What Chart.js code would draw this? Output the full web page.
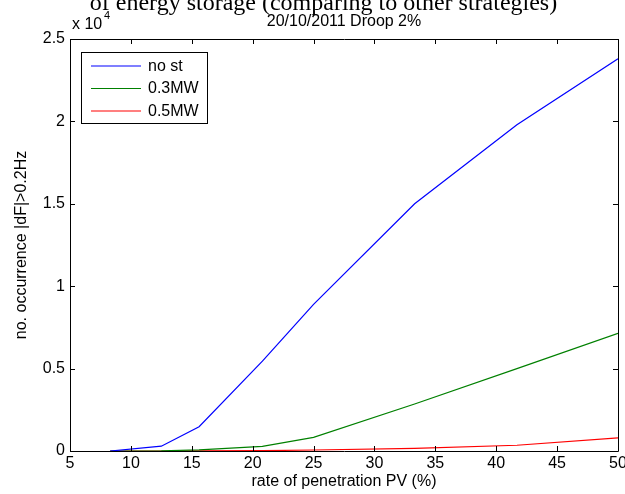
<!DOCTYPE html>
<html>
<head>
<meta charset="utf-8">
<script src="https://cdn.jsdelivr.net/npm/chart.js@4/dist/chart.umd.min.js"></script>
<style>
  html, body { margin: 0; padding: 0; background: #fff; }
  #wrap { position: relative; width: 625px; height: 494px; overflow: hidden; }
  #cut { position: absolute; left: 11px; top: -11px; width: 625px; text-align: center;
         font: 24px "Liberation Serif", "Times New Roman", serif; color: #000; white-space: nowrap; }
</style>
</head>
<body>
<div id="wrap">
  <canvas id="chart" width="625" height="494"></canvas>
  <div id="cut">of energy storage (comparing to other strategies)</div>
</div>
<script>
// penetration rate of PV (%)
const penetration = [8.3, 12.5, 15.6, 20.8, 25, 33.3, 41.7, 50];
// no. of occurrences |dF| > 0.2Hz
const noStorage = [0, 290, 1470, 5450, 8900, 15000, 19800, 23800];
const storage03 = [0, 10, 70, 280, 830, 2850, 5000, 7140];
const storage05 = [0, 0, 5, 20, 60, 160, 350, 800];
const seriesNames = ["no st", "0.3MW", "0.5MW"];
const seriesColors = ["#0000ff", "#008000", "#ff0000"];
const yTicks = [0, 5000, 10000, 15000, 20000, 25000];

const font = "Liberation Sans, Arial, sans-serif";

function points(values) {
  return penetration.map((x, i) => ({ x: x, y: values[i] }));
}

// MATLAB style box with inward ticks, titles and legend
const matlabAxes = {
  id: "matlabAxes",
  afterDraw(chart) {
    const ctx = chart.ctx;
    const a = chart.chartArea;
    const xs = chart.scales.x;
    const ys = chart.scales.y;
    ctx.save();
    ctx.strokeStyle = "#000";
    ctx.lineWidth = 1;
    ctx.beginPath();
    ctx.rect(a.left + 0.5, a.top + 0.5, a.right - a.left, a.bottom - a.top);
    for (let v = 5; v <= 50; v += 5) {
      const px = Math.round(xs.getPixelForValue(v)) + 0.5;
      ctx.moveTo(px, a.bottom); ctx.lineTo(px, a.bottom - 5);
      ctx.moveTo(px, a.top); ctx.lineTo(px, a.top + 5);
    }
    yTicks.forEach((v) => {
      const py = Math.round(ys.getPixelForValue(v)) + 0.5;
      ctx.moveTo(a.left, py); ctx.lineTo(a.left + 5, py);
      ctx.moveTo(a.right, py); ctx.lineTo(a.right - 5, py);
    });
    ctx.stroke();

    ctx.fillStyle = "#000";
    ctx.font = "16px " + font;
    ctx.textAlign = "center";
    ctx.textBaseline = "middle";
    ctx.fillText("20/10/2011 Droop 2%", (a.left + a.right) / 2, 22);
    ctx.fillText("rate of penetration PV (%)", (a.left + a.right) / 2, 482);
    ctx.save();
    ctx.translate(22, (a.top + a.bottom) / 2);
    ctx.rotate(-Math.PI / 2);
    ctx.fillText("no. occurrence |dF|>0.2Hz", 0, 0);
    ctx.restore();

    ctx.textAlign = "left";
    ctx.fillText("x 10", a.left + 2, 25);
    ctx.font = "11px " + font;
    ctx.fillText("4", a.left + 34, 16);

    // legend
    ctx.fillStyle = "#fff";
    ctx.fillRect(81, 52, 126, 71);
    ctx.strokeStyle = "#000";
    ctx.strokeRect(81.5, 52.5, 126, 71);
    ctx.font = "16px " + font;
    seriesNames.forEach((name, i) => {
      const y = 66 + i * 22.5;
      ctx.beginPath();
      ctx.strokeStyle = seriesColors[i];
      ctx.lineWidth = 1.2;
      ctx.moveTo(91, y);
      ctx.lineTo(141, y);
      ctx.stroke();
      ctx.fillStyle = "#000";
      ctx.fillText(name, 148, y + 0.5);
    });
    ctx.restore();
  },
};

new Chart(document.getElementById("chart"), {
  type: "line",
  data: {
    datasets: [
      { label: seriesNames[0], data: points(noStorage), borderColor: seriesColors[0] },
      { label: seriesNames[1], data: points(storage03), borderColor: seriesColors[1] },
      { label: seriesNames[2], data: points(storage05), borderColor: seriesColors[2] },
    ],
  },
  options: {
    responsive: false,
    animation: false,
    elements: {
      line: { borderWidth: 1.2, tension: 0 },
      point: { radius: 0 },
    },
    layout: { padding: { top: 39, right: 7, left: 0, bottom: 0 } },
    plugins: { legend: { display: false }, tooltip: { enabled: false } },
    scales: {
      x: {
        type: "linear",
        min: 5,
        max: 50,
        grid: { display: false, drawTicks: false },
        border: { display: false },
        ticks: { stepSize: 5, color: "#000", font: { family: font, size: 16 }, padding: 3, maxRotation: 0 },
        afterFit: (s) => { s.height = 43; s.paddingRight = 0; s.paddingLeft = 0; },
      },
      y: {
        min: 0,
        max: 25000,
        grid: { display: false, drawTicks: false },
        border: { display: false },
        ticks: {
          stepSize: 5000,
          color: "#000",
          font: { family: font, size: 16 },
          padding: 5,
          callback: (v) => String(v / 10000),
        },
        afterFit: (s) => { s.width = 70; s.paddingTop = 0; s.paddingBottom = 0; },
      },
    },
  },
  plugins: [matlabAxes],
});
</script>
</body>
</html>
